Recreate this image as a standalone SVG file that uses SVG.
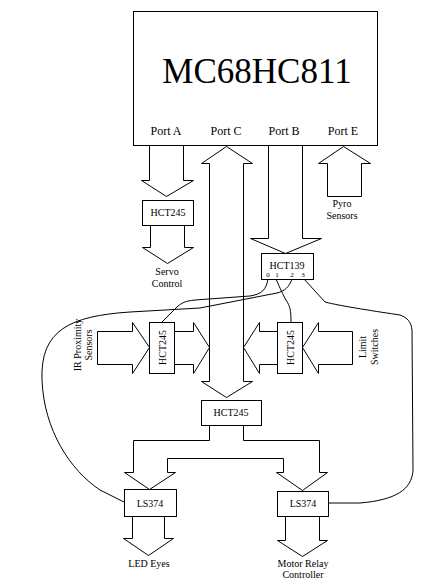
<svg xmlns="http://www.w3.org/2000/svg" width="428" height="583" viewBox="0 0 428 583">
<style>
.s{fill:none;stroke:#000;stroke-width:1}
.b{fill:#fff;stroke:#000;stroke-width:1}
text{font-family:"Liberation Serif","Times New Roman",serif;fill:#000;text-anchor:middle}
.t10{font-size:10px}
.t12{font-size:12px}
.t7{font-size:7px}
</style>
<rect width="428" height="583" fill="#fff"/>
<g id="connectors">
<polyline class="s" points="149.5,145.5 149.5,180.5 141.5,180.5 166.5,196.5 193.5,180.5 183.5,180.5 183.5,145.5"/>
<polygon class="s" points="226.5,146.5 252.5,163.5 243.5,163.5 243.5,381.5 252.5,381.5 226.5,397.5 201.5,381.5 209.5,381.5 209.5,163.5 201.5,163.5"/>
<polyline class="s" points="268.5,145.5 268.5,238.5 250.5,238.5 285.5,253.5 321.5,238.5 302.5,238.5 302.5,145.5"/>
<polygon class="s" points="327.5,196.5 327.5,163.5 318.5,163.5 343.5,146.5 370.5,163.5 361.5,163.5 361.5,196.5"/>
<polyline class="s" points="150.5,225.5 150.5,247.5 142.5,247.5 167.5,263.5 193.5,247.5 184.5,247.5 184.5,225.5"/>
<polygon class="s" points="97.5,331.5 132.5,331.5 132.5,322.5 149.5,347.5 132.5,373.5 132.5,364.5 97.5,364.5"/>
<polyline class="s" points="174.5,331.5 193.5,331.5 193.5,322.5 209.5,347.5 193.5,373.5 193.5,364.5 174.5,364.5"/>
<polyline class="s" points="277.5,331.5 259.5,331.5 259.5,322.5 243.5,347.5 259.5,373.5 259.5,364.5 277.5,364.5"/>
<polygon class="s" points="352.5,331.5 318.5,331.5 318.5,322.5 302.5,347.5 318.5,373.5 318.5,364.5 352.5,364.5"/>
<path class="s" d="M209.5,425.5 V440.5 H133.5 V472.5 H124.5 L149.5,489.5 L175.5,472.5 H167.5 V458.5 H283.5 V472.5 H276.5 L302.5,490.5 L327.5,472.5 H319.5 V440.5 H243.5 V425.5"/>
<polyline class="s" points="132.5,516.5 132.5,538.5 123.5,538.5 148.5,555.5 173.5,538.5 164.5,538.5 164.5,516.5"/>
<polyline class="s" points="285.5,516.5 285.5,540.5 277.5,540.5 302.5,556.5 327.5,540.5 319.5,540.5 319.5,516.5"/>
<path class="s" d="M268,279 C266,290 262,294 250,296 L195,300 C185,301 182,303 178,306 L162,322"/>
<path class="s" d="M276,279 C280,288 283,295 286,300 C290,306 291,310 291,322"/>
<path class="s" d="M292,279 C289,287 285,291 277,293 L200,308 L130,312 C70,316 40,330 42,380 C44,430 70,470 100,490 L124,502"/>
<path class="s" d="M304,279 L325,302 C340,306 380,312 400,315 C408,318 411,322 412,330 L413,470 C412,490 395,500 360,503 L328,503"/>
</g>
<g id="mcu">
<rect class="b" x="133.5" y="11.5" width="244" height="134"/>
<text x="257" y="83" style="font-size:35px">MC68HC811</text>
<text class="t12" x="166" y="135">Port A</text>
<text class="t12" x="226" y="135">Port C</text>
<text class="t12" x="284" y="135">Port B</text>
<text class="t12" x="343" y="135">Port E</text>
</g>
<g id="hct245-servo">
<rect class="b" x="142.5" y="200.5" width="51" height="25"/>
<text class="t10" x="168" y="216">HCT245</text>
</g>
<g id="servo-label">
<text class="t10" x="167" y="275">Servo</text>
<text class="t10" x="167" y="287">Control</text>
</g>
<g id="pyro-label">
<text class="t10" x="342" y="207">Pyro</text>
<text class="t10" x="342" y="219">Sensors</text>
</g>
<g id="hct139">
<rect class="b" x="261.5" y="253.5" width="52" height="26"/>
<text class="t10" x="287" y="269">HCT139</text>
<text class="t7" x="268" y="277">0</text>
<text class="t7" x="277" y="277">1</text>
<text class="t7" x="292" y="277">2</text>
<text class="t7" x="303" y="277">3</text>
</g>
<g id="hct245-ir">
<rect class="b" x="149.5" y="322.5" width="25" height="51"/>
<text class="t10" transform="translate(165.5,347.5) rotate(-90)">HCT245</text>
</g>
<g id="ir-label">
<text class="t10" transform="translate(81,345) rotate(-90)">IR Proximity</text>
<text class="t10" transform="translate(92,345) rotate(-90)">Sensors</text>
</g>
<g id="hct245-limit">
<rect class="b" x="277.5" y="322.5" width="25" height="51"/>
<text class="t10" transform="translate(293.5,347.5) rotate(-90)">HCT245</text>
</g>
<g id="limit-label">
<text class="t10" transform="translate(366,347) rotate(-90)">Limit</text>
<text class="t10" transform="translate(378,347) rotate(-90)">Switches</text>
</g>
<g id="hct245-bus">
<rect class="b" x="201.5" y="400.5" width="60" height="25"/>
<text class="t10" x="231" y="416">HCT245</text>
</g>
<g id="ls374-led">
<rect class="b" x="124.5" y="489.5" width="52" height="27"/>
<text class="t10" x="150" y="507">LS374</text>
</g>
<g id="ls374-motor">
<rect class="b" x="277.5" y="491.5" width="51" height="25"/>
<text class="t10" x="303" y="507">LS374</text>
</g>
<g id="led-label">
<text class="t10" x="149" y="567">LED Eyes</text>
</g>
<g id="motor-label">
<text class="t10" x="303" y="567">Motor Relay</text>
<text class="t10" x="303" y="578">Controller</text>
</g>
</svg>
